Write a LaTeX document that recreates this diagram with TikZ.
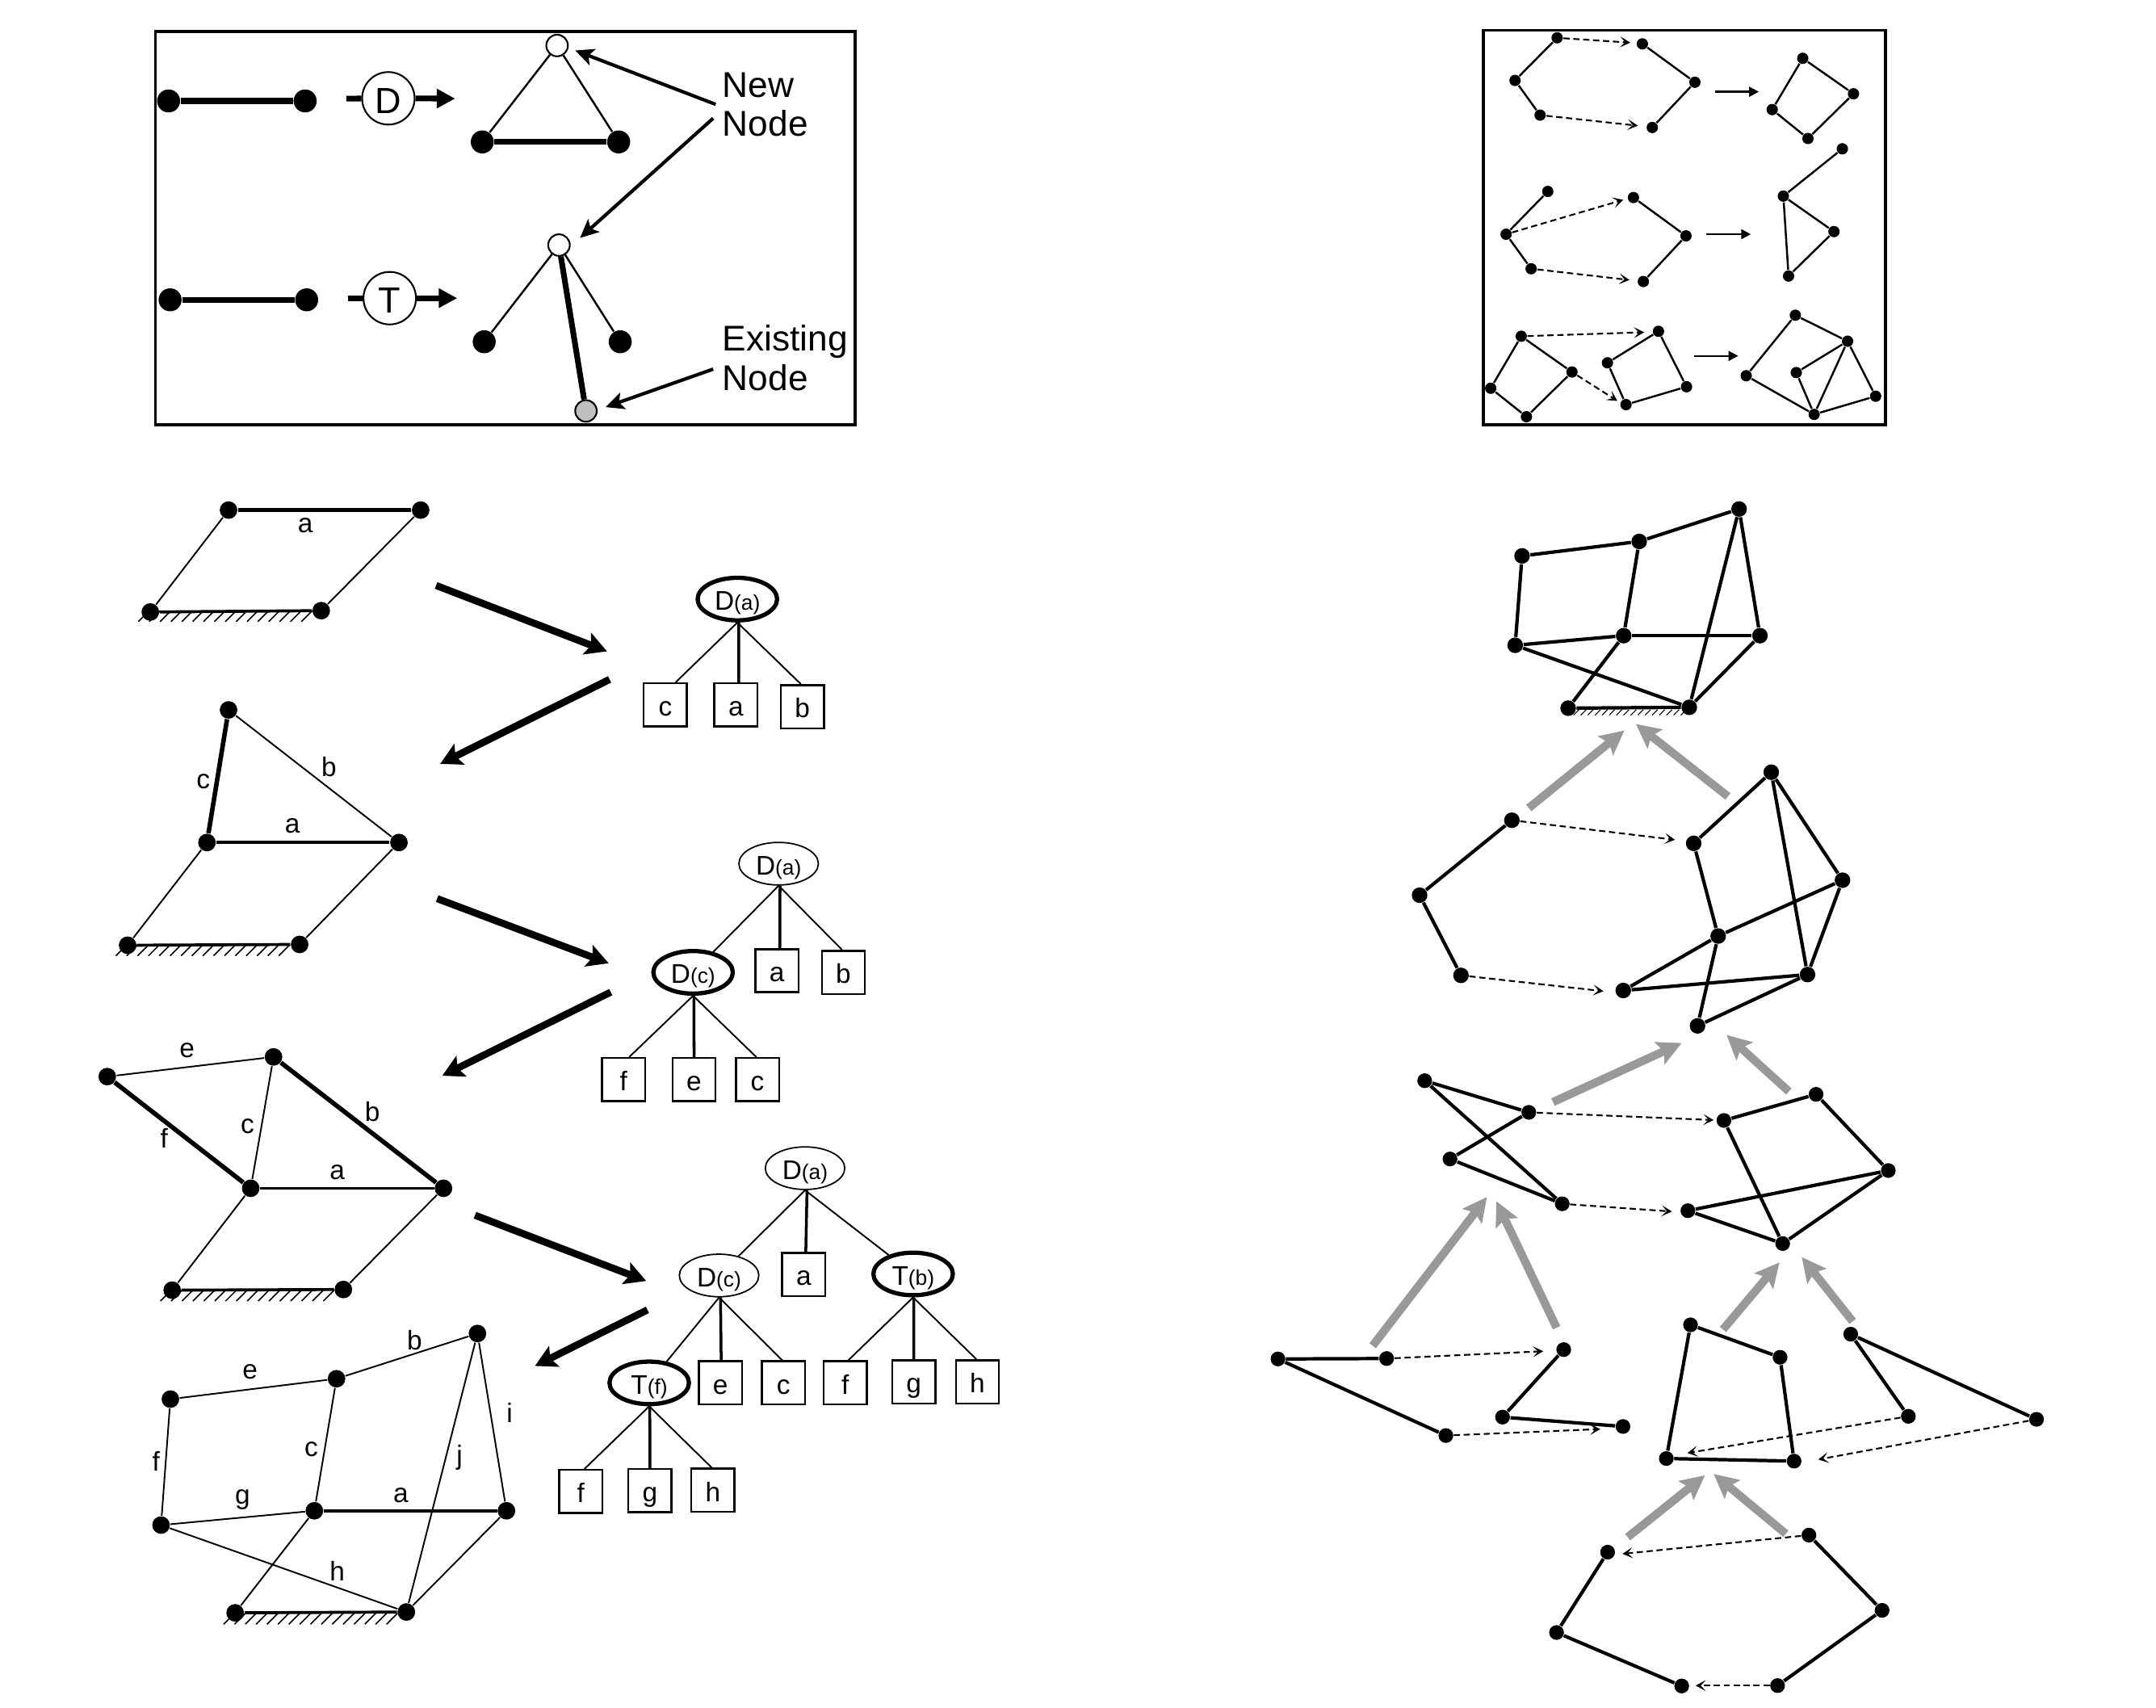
\documentclass[tikz,border=0pt]{standalone}
\usepackage{fontspec}
\setmainfont{Liberation Sans}
\usetikzlibrary{arrows.meta,shapes.geometric}
\newcommand{\fbig}{\fontsize{12.6}{14}\selectfont}
\newcommand{\fopn}{\fontsize{12.8}{14}\selectfont}
\newcommand{\fmid}{\fontsize{9.5}{11}\selectfont}
\newcommand{\fsm}{\fontsize{7.5}{9}\selectfont}
\newcommand{\groundhatch}[6]{\foreach \hx in {#1,#5,...,#2} \draw[line width=#6] (\hx,#3) -- ++(-#4,#4);}
\tikzset{
  legdot/.style={circle,fill=black,inner sep=0pt,minimum size=8.1pt},
  legwhite/.style={circle,draw=black,fill=white,line width=.6pt,inner sep=0pt,minimum size=7.6pt},
  leggray/.style={circle,draw=black,fill=black!25,line width=.6pt,inner sep=0pt,minimum size=7.6pt},
  legop/.style={circle,draw=black,fill=white,line width=.6pt,inner sep=0pt,minimum size=18.5pt,font=\fopn,text height=10.4pt,text depth=0pt},
  legthick/.style={line width=2pt},
  legthin/.style={line width=.7pt},
  legarrow/.style={line width=2pt,-{Triangle[length=6.5pt,width=6.5pt]}},
  pointer/.style={line width=1.2pt,-{Stealth[length=6.5pt,width=6pt,inset=1.5pt]}},
  callout/.style={anchor=base west,inner sep=0pt,font=\fbig},
  frame/.style={line width=1.05pt},
  mdot/.style={circle,fill=black,inner sep=0pt,minimum size=6.2pt},
  mthin/.style={line width=.55pt},
  mmid/.style={line width=1.05pt},
  mthick/.style={line width=1.6pt},
  lbl/.style={inner sep=0pt,font=\fmid},
  bigarrow/.style={line width=2.5pt,-{Stealth[length=7.5pt,width=8pt,inset=1.5pt]}},
  treethin/.style={ellipse,draw=black,line width=.5pt,fill=white,inner sep=0pt,minimum width=28pt,minimum height=15pt,font=\fmid,text height=7.8pt,text depth=0pt},
  treethick/.style={ellipse,draw=black,line width=1.5pt,fill=white,inner sep=0pt,minimum width=28pt,minimum height=15pt,font=\fmid,text height=7.8pt,text depth=0pt},
  leaf/.style={rectangle,draw=black,line width=.7pt,fill=white,inner sep=0pt,minimum size=15.2pt,font=\fmid,text height=7.8pt,text depth=0pt},
  tdiag/.style={line width=.55pt},
  tstem/.style={line width=1pt},
  sdot/.style={circle,fill=black,inner sep=0pt,minimum size=4pt},
  sedge/.style={line width=.7pt},
  sarrow/.style={line width=.7pt,-{Triangle[length=3.4pt,width=3.4pt]}},
  dashline/.style={line width=.6pt,dash pattern=on 2.2pt off 1.3pt,-{Stealth[length=3.6pt,width=3.8pt,inset=1.8pt]}},
  rdot/.style={circle,fill=black,inner sep=0pt,minimum size=5.2pt},
  redge/.style={line width=1.2pt},
  grayarrow/.style={draw=black!40,line width=2.9pt,-{Stealth[length=8.5pt,width=8.4pt,inset=1.6pt]}},
}
\begin{document}
\begin{tikzpicture}[x=0.01703cm,y=-0.01703cm]
\useasboundingbox (0,0) rectangle (1567.8,1241.35);

% ---------- legend box (left)
\draw[frame] (113,23) rectangle (622,309);
\foreach \n/\x/\y in {la/122.6/73.4,lb/221.9/73.4,lc/350.7/103.2,ld/449.9/103.2,le/123.7/218,lf/223/218,lg/352.1/248.5,lh/451/248.5}
  \node[legdot] (\n) at (\x,\y) {};
\node[legwhite] (lw1) at (405.1,33.1) {};
\node[legwhite] (lw2) at (406.5,178.2) {};
\node[leggray] (lgr) at (426.1,298.8) {};
\node[legop] (opd) at (282.4,71.5) {D};
\node[legop] (opt) at (283.4,216.8) {T};
\coordinate (opdl) at (251.8,71.7);
\coordinate (opdr) at (331,71.7);
\coordinate (optl) at (252.8,216.8);
\coordinate (optr) at (332.5,216.8);
\draw[legthick] (la) -- (lb);
\draw[legthick] (le) -- (lf);
\draw[legthick] (lc) -- (ld);
\draw[legthin] (lw1) -- (lc);
\draw[legthin] (lw1) -- (ld);
\draw[legthin] (lw2) -- (lg);
\draw[legthin] (lw2) -- (lh);
\draw[legthick] (lw2) -- (lgr);
\draw[line width=2pt] (opdl) -- (opd);
\draw[line width=2pt] (optl) -- (opt);
\draw[legarrow] (opd) -- (opdr);
\draw[legarrow] (opt) -- (optr);
\node[callout] (tnew) at (525,70.5) {New};
\node[callout] (tnode1) at (525,99) {Node};
\node[callout] (texist) at (525,255) {Existing};
\node[callout] (tnode2) at (525,284) {Node};
\coordinate (p1s) at (520.4,75.9);
\coordinate (p1e) at (418.3,36.7);
\coordinate (p2s) at (518.6,86);
\coordinate (p2e) at (421.8,173);
\coordinate (p3s) at (518.6,268.4);
\coordinate (p3e) at (440.3,296);
\draw[pointer] (p1s) -- (p1e);
\draw[pointer] (p2s) -- (p2e);
\draw[pointer] (p3s) -- (p3e);

% ---------- legend box (right)
\draw[frame] (1078.8,22) rectangle (1370.9,308.7);
\foreach \n/\x/\y in {
  a1/1132.3/27.5,a2/1101.7/58.5,a3/1119.9/83.7,a4/1194.3/31.9,a5/1232.5/59.8,a6/1201.5/92.7,
  a7/1310.9/42.4,a8/1347.8/68.2,a9/1314.7/100.7,a10/1288.7/79.7,
  b1/1125.5/139.2,b2/1095.2/170.3,b3/1113.4/195.4,b4/1187.8/143.6,b5/1226/171.5,b6/1195/204.7,
  b7/1339.7/108.2,b8/1296.8/142.6,b9/1333.6/168.4,b10/1300.6/200.7,
  c1/1106.2/244.5,c2/1143.1/270.5,c3/1110/303,c4/1084/282.3,
  c5/1206/240.9,c6/1226.4/281.2,c7/1182.4/294.2,c8/1168.9/263.8,
  c9/1305.5/229.2,c10/1343.5/248.1,c11/1363.9/288.1,c12/1319.2/301.3,c13/1306.2/270.9,c14/1269.8/273.2}
  \node[sdot] (\n) at (\x,\y) {};
\foreach \a/\b in {a1/a2,a2/a3,a4/a5,a5/a6,a7/a8,a8/a9,a9/a10,a10/a7,
  b1/b2,b2/b3,b4/b5,b5/b6,b7/b8,b8/b9,b9/b10,b10/b8,
  c1/c2,c2/c3,c3/c4,c4/c1,c5/c6,c6/c7,c7/c8,c8/c5,
  c9/c10,c10/c11,c11/c12,c12/c14,c14/c9,c10/c13,c13/c12,c10/c12}
  \draw[sedge] (\a) -- (\b);
\foreach \s/\n/\x/\y in {a1/ae1/1185.5/31,a3/ae2/1191/91.4,b2/be1/1180.4/145.3,b3/be2/1184.9/203.6,c1/ce1/1195.6/241.6,c2/ce2/1176.1/291.5}{
  \coordinate (\n) at (\x,\y);
  \draw[dashline] (\s) -- (\n);
}
\foreach \n/\xa/\ya/\xb/\yb in {sa/1246.9/66.7/1279/66.7,sb/1241/170.3/1273.2/170.3,sc/1232/258.8/1264/258.8}{
  \coordinate (\n s) at (\xa,\ya);
  \coordinate (\n e) at (\xb,\yb);
  \draw[sarrow] (\n s) -- (\n e);
}

% ---------- mechanism 1
\foreach \n/\x/\y in {m1a/166.2/370.9,m1b/305.9/370.9,m1c/109.3/445,m1d/233.6/444}
  \node[mdot] (\n) at (\x,\y) {};
\draw[mthick] (m1a) -- (m1b);
\draw[mthin] (m1a) -- (m1c);
\draw[mthin] (m1b) -- (m1d);
\draw[mmid] (m1c) -- (m1d);
\groundhatch{108.6}{233}{444}{8}{116.5}{.45pt}
\node[lbl] (m1la) at (222,382) {a};

% ---------- mechanism 2
\foreach \n/\x/\y in {m2e/166.2/516.2,m2a/150.5/612.6,m2b/290.1/612.6,m2c/92.8/687.3,m2d/217.9/686.7}
  \node[mdot] (\n) at (\x,\y) {};
\draw[mthick] (m2e) -- (m2a);
\draw[mthin] (m2e) -- (m2b);
\draw[mmid] (m2a) -- (m2b);
\draw[mthin] (m2a) -- (m2c);
\draw[mthin] (m2b) -- (m2d);
\draw[mmid] (m2c) -- (m2d);
\groundhatch{92.2}{217}{687}{8}{100.1}{.45pt}
\node[lbl] (m2lb) at (239.2,557.5) {b};
\node[lbl] (m2lc) at (147.8,568) {c};
\node[lbl] (m2la) at (212.6,600.7) {a};

% ---------- mechanism 3
\foreach \n/\x/\y in {m3f/78/782.8,m3e/198.9/768.5,m3a/182.3/864,m3b/322.5/864,m3c/125.2/938.1,m3d/249.7/937.6}
  \node[mdot] (\n) at (\x,\y) {};
\draw[mthin] (m3f) -- (m3e);
\draw[mthick] (m3f) -- (m3a);
\draw[mthick] (m3e) -- (m3b);
\draw[mthin] (m3e) -- (m3a);
\draw[mmid] (m3a) -- (m3b);
\draw[mthin] (m3a) -- (m3c);
\draw[mthin] (m3b) -- (m3d);
\draw[mmid] (m3c) -- (m3d);
\groundhatch{124.6}{249}{938}{8}{132.5}{.45pt}
\node[lbl] (m3le) at (136,764) {e};
\node[lbl] (m3lf) at (119.4,827.4) {f};
\node[lbl] (m3lc) at (180,819) {c};
\node[lbl] (m3lb) at (270.8,808.3) {b};
\node[lbl] (m3la) at (245.2,852.4) {a};

% ---------- mechanism 4
\foreach \n/\x/\y in {m4b/347.2/969.6,m4e/244.7/1002.5,m4f/123.9/1017.3,m4g/117.1/1108.9,m4a/228.6/1098.5,m4r/368.3/1098.5,m4c/171/1172.7,m4d/295.5/1172.1}
  \node[mdot] (\n) at (\x,\y) {};
\foreach \a/\b in {m4f/m4e,m4e/m4b,m4f/m4g,m4e/m4a,m4g/m4a,m4g/m4d,m4a/m4c,m4r/m4d,m4b/m4r,m4b/m4d}
  \draw[mthin] (\a) -- (\b);
\draw[mmid] (m4a) -- (m4r);
\draw[mmid] (m4c) -- (m4d);
\groundhatch{170.6}{295}{1173}{8}{178.5}{.45pt}
\node[lbl] (m4lb) at (301.4,974.6) {b};
\node[lbl] (m4le) at (181.8,997.4) {e};
\node[lbl] (m4lf) at (113.5,1062.6) {f};
\node[lbl] (m4lc) at (226.3,1054) {c};
\node[lbl] (m4lj) at (334.2,1059.7) {j};
\node[lbl] (m4li) at (370.6,1027.4) {i};
\node[lbl] (m4lg) at (176.4,1090.6) {g};
\node[lbl] (m4la) at (291.5,1087) {a};
\node[lbl] (m4lh) at (245.2,1142.6) {h};

% ---------- large black arrows
\foreach \n/\xa/\ya/\xb/\yb in {ba/317.1/425.7/441.4/473.6,bb/443.3/494/320.1/555.4,bc/317.9/653.4/442.6/700.4,bd/444.1/721.4/321.6/782.2,be/345.4/883.6/469.9/931.4,bf/470.8/952.4/389/993.2}{
  \coordinate (\n s) at (\xa,\ya);
  \coordinate (\n e) at (\xb,\yb);
  \draw[bigarrow] (\n s) -- (\n e);
}

% ---------- tree 1
\node[treethick] (t1r) at (536.2,435.6) {D{\fsm(a)}};
\node[leaf] (t1c) at (483.8,512.6) {c};
\node[leaf] (t1a) at (535.1,512.6) {a};
\node[leaf] (t1b) at (583.4,513.8) {b};
\draw[tdiag] (t1r.south) -- ([xshift=3.6pt]t1c.north);
\draw[tstem] ([xshift=.5pt]t1r.south) -- ([xshift=1pt]t1a.north);
\draw[tdiag] (t1r.south) -- ([xshift=-.5pt]t1b.north);

% ---------- tree 2
\node[treethin] (t2r) at (566.2,628) {D{\fsm(a)}};
\node[treethick] (t2d) at (504,707) {D{\fsm(c)}};
\node[leaf] (t2a) at (565,705.8) {a};
\node[leaf] (t2b) at (613.3,707) {b};
\node[leaf] (t2f) at (453.4,785) {f};
\node[leaf] (t2e) at (504.7,785) {e};
\node[leaf] (t2c) at (550.8,785) {c};
\draw[tdiag] (t2r.south) -- (t2d);
\draw[tstem] ([xshift=.5pt]t2r.south) -- ([xshift=1pt]t2a.north);
\draw[tdiag] (t2r.south) -- ([xshift=-.5pt]t2b.north);
\draw[tdiag] (t2d.south) -- ([xshift=2pt]t2f.north);
\draw[tstem] ([xshift=.3pt]t2d.south) -- (t2e.north);
\draw[tdiag] (t2d.south) -- ([xshift=-.4pt]t2c.north);

% ---------- tree 3
\node[treethin] (t3r) at (585.4,849.4) {D{\fsm(a)}};
\node[treethin] (t3d) at (522.9,927.4) {D{\fsm(c)}};
\node[leaf] (t3a) at (584.5,926.6) {a};
\node[treethick] (t3t) at (664,926.3) {T{\fsm(b)}};
\node[treethick] (t3g) at (472.1,1005.5) {T{\fsm(f)}};
\node[leaf] (t3e) at (523.8,1005.5) {e};
\node[leaf] (t3c) at (569.7,1005.5) {c};
\node[leaf] (t3bf) at (614.6,1005.5) {f};
\node[leaf] (t3bg) at (664.5,1004.7) {g};
\node[leaf] (t3bh) at (710.8,1004.7) {h};
\node[leaf] (t3ff) at (422.3,1084.5) {f};
\node[leaf] (t3fg) at (472.6,1083.9) {g};
\node[leaf] (t3fh) at (518.4,1083.6) {h};
\draw[tdiag] (t3r.south) -- (t3d);
\draw[tstem] ([xshift=.7pt]t3r.south) -- ([xshift=.7pt]t3a.north);
\draw[tdiag] (t3r.south) -- (t3t);
\draw[tdiag] (t3d.south) -- (t3g);
\draw[tstem] ([xshift=.5pt]t3d.south) -- ([xshift=.3pt]t3e.north);
\draw[tdiag] (t3d.south) -- ([xshift=-.4pt]t3c.north);
\draw[tdiag] (t3t.south) -- ([xshift=1.1pt]t3bf.north);
\draw[tstem] ([xshift=.2pt]t3t.south) -- (t3bg.north);
\draw[tdiag] (t3t.south) -- ([xshift=-.4pt]t3bh.north);
\draw[tdiag] (t3g.south) -- ([xshift=1.3pt]t3ff.north);
\draw[tstem] ([xshift=.2pt]t3g.south) -- (t3fg.north);
\draw[tdiag] (t3g.south) -- ([xshift=-.4pt]t3fh.north);

% ---------- right column: top graph
\foreach \n/\x/\y in {g1a/1264.6/370.1,g1b/1192/393.7,g1c/1106.8/404.2,g1d/1101.8/469.2,g1e/1180.7/462.2,g1f/1279.8/462.2,g1g/1140.3/514.9,g1h/1228.4/514.3}
  \node[rdot,minimum size=5.5pt] (\n) at (\x,\y) {};
\foreach \a/\b in {g1c/g1b,g1b/g1a,g1c/g1d,g1b/g1e,g1d/g1e,g1e/g1f,g1d/g1h,g1e/g1g,g1f/g1h,g1a/g1f,g1a/g1h,g1g/g1h}
  \draw[redge] (\a) -- (\b);
\groundhatch{1143}{1228}{516}{4}{1148.2}{.3pt}

% ---------- right column: second row
\foreach \n/\x/\y in {g2a/1099.4/596.4,g2b/1032.3/650.9,g2c/1062.4/709.2,g2d/1288/561.5,g2e/1231.6/613.2,g2f/1339.8/640,g2g/1249.4/680.6,g2h/1314.4/708.6,g2i/1180.4/720.2,g2j/1234.4/745.9}
  \node[rdot,minimum size=5.5pt] (\n) at (\x,\y) {};
\foreach \a/\b in {g2a/g2b,g2b/g2c,g2d/g2e,g2d/g2f,g2d/g2h,g2e/g2g,g2g/g2f,g2g/g2i,g2g/g2j,g2f/g2h,g2h/g2i,g2h/g2j}
  \draw[redge] (\a) -- (\b);

% ---------- right column: third row
\foreach \n/\x/\y in {g3a/1036/785.8,g3b/1111.7/808.8,g3c/1054.4/842.7,g3d/1136/875.3,g3e/1320.6/795.7,g3f/1253.6/814.7,g3g/1373.1/851.1,g3h/1227.4/880.3,g3i/1296.3/904.2}
  \node[rdot] (\n) at (\x,\y) {};
\foreach \a/\b in {g3a/g3b,g3b/g3c,g3c/g3d,g3a/g3d,g3f/g3e,g3e/g3g,g3f/g3i,g3h/g3g,g3h/g3i,g3g/g3i}
  \draw[redge] (\a) -- (\b);

% ---------- right column: fourth row
\foreach \n/\x/\y in {g4a/929.3/988.1,g4b/1008.3/987.8,g4c/1051.4/1043.8,g4d/1137.1/981.3,g4e/1092.6/1030.4,g4f/1180.2/1037.2,
  g4g/1229.3/963.3,g4h/1294.4/986.9,g4i/1211.7/1060.5,g4j/1304.6/1062.4,g4k/1345.8/970.1,g4l/1387.7/1029.8,g4m/1480.9/1032}
  \node[rdot] (\n) at (\x,\y) {};
\foreach \a/\b in {g4a/g4b,g4a/g4c,g4d/g4e,g4e/g4f,g4g/g4h,g4h/g4j,g4g/g4i,g4i/g4j,g4k/g4l,g4k/g4m}
  \draw[redge] (\a) -- (\b);

% ---------- right column: bottom row
\foreach \n/\x/\y in {g5a/1169/1128.6,g5b/1315.4/1116.2,g5c/1131.9/1187,g5d/1368.6/1170.9,g5e/1222.9/1225.9,g5f/1292.6/1225.6}
  \node[rdot] (\n) at (\x,\y) {};
\foreach \a/\b in {g5a/g5c,g5c/g5e,g5b/g5d,g5d/g5f}
  \draw[redge] (\a) -- (\b);

% ---------- right column: dashed arrows
\foreach \s/\n/\x/\y in {g2a/de1/1218/610.6,g2c/de2/1166/720.7,g3b/de3/1246.1/814.4,g3d/de4/1215.8/880.9,g4b/de5/1122.2/982.5,g4c/de6/1163.7/1039.1,g4l/de7/1227/1056.5,g4m/de8/1322.2/1061.2,g5b/de9/1179.8/1129.8,g5f/de10/1233/1225.6}{
  \coordinate (\n) at (\x,\y);
  \draw[dashline] (\s) -- (\n);
}

% ---------- right column: gray arrows
\foreach \n/\xa/\ya/\xb/\yb in {
  ga/1111.7/587.5/1181.2/531.1,gb/1256.5/579.1/1189.6/526.4,
  gc/1129.3/801.3/1222.9/758.4,gd/1300.8/793.6/1255.5/752.5,
  ge/998.2/978.5/1081.3/870.3,gf/1131.9/965.4/1088.1/873.4,
  gg/1252.9/966.7/1294/917.9,gh/1347.2/960.8/1310.2/914.1,
  gi/1183.6/1117.7/1239.8/1072.7,gj/1298.6/1115.2/1246.1/1071.7}{
  \coordinate (\n s) at (\xa,\ya);
  \coordinate (\n e) at (\xb,\yb);
  \draw[grayarrow] (\n s) -- (\n e);
}
\end{tikzpicture}
\end{document}
